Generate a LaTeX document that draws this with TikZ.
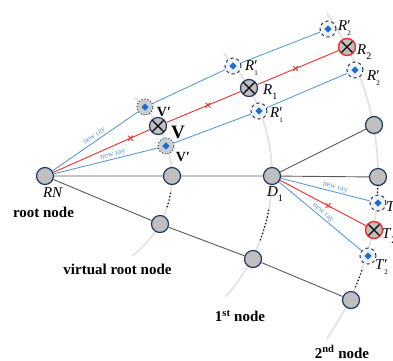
\documentclass[tikz,border=0pt]{standalone}
\usepackage{fontspec}
\setmainfont{Liberation Serif}
\usetikzlibrary{shapes.misc}

\definecolor{navy}{HTML}{1F3864}
\definecolor{nodegrey}{HTML}{BFBFBF}
\definecolor{ghostgrey}{HTML}{CDCDCD}
\definecolor{ghostwhite}{HTML}{F2F2F2}
\definecolor{arcgrey}{HTML}{E3E3E3}
\definecolor{edgegrey}{HTML}{595959}
\definecolor{raynew}{HTML}{5B9BD5}
\definecolor{rayred}{HTML}{EE3030}
\definecolor{diamondblue}{HTML}{1A6FD6}

% primed label with a stacked subscript, and a plain subscripted label
\newcommand\prlbl[2]{\textit{#1}\rlap{′}\raisebox{-0.3em}{\fontsize{7}{7}\selectfont #2}}
\newcommand\sblbl[2]{\textit{#1}\raisebox{-0.3em}{\fontsize{10}{10}\selectfont #2}}

\tikzset{
  tnode/.style={circle, draw=navy, fill=nodegrey, line width=1.2pt,
    minimum size=17pt, inner sep=0pt},
  crossed/.style={tnode, path picture={
    \draw[black, line width=1.1pt]
      (path picture bounding box.north west) -- (path picture bounding box.south east)
      (path picture bounding box.north east) -- (path picture bounding box.south west);}},
  hit/.style={crossed, draw=rayred, line width=1.4pt},
  ghost/.style={circle, draw=navy, line width=1pt, minimum size=16pt, inner sep=0pt,
    path picture={
      \fill[diamondblue] (path picture bounding box.center) ++(0,-3.6)
        -- ++(3.6,3.6) -- ++(-3.6,3.6) -- ++(-3.6,-3.6) -- cycle;}},
  ghostv/.style={ghost, dotted, fill=ghostgrey},
  ghostr/.style={ghost, dashed, fill=ghostwhite},
  edge/.style={draw=edgegrey, line width=0.9pt},
  blueray/.style={draw=raynew, line width=0.9pt},
  redray/.style={draw=rayred, line width=0.9pt},
  xmk/.style={cross out, draw=rayred, minimum size=4pt, inner sep=0pt, line width=0.9pt},
  raylbl/.style={sloped, above, inner sep=0.8pt, text=raynew,
    font=\fontsize{8}{8}\selectfont},
  arcline/.style={draw=arcgrey, line width=1.8pt},
  dots/.style={draw=black, line width=1.6pt, line cap=round, dash pattern=on 0pt off 3.4pt},
  lbl/.style={inner sep=0pt, font=\fontsize{15}{15}\selectfont},
  title/.style={inner sep=0pt, font=\fontsize{15}{15}\selectfont\bfseries}
}

\begin{document}
\begin{tikzpicture}[x=1pt, y=-1pt]
\useasboundingbox (0,0) rectangle (393,360);

% level arcs
\draw[arcline] plot[domain=-52:53, samples=60] ({72+100*cos(\x)}, {176+100*sin(\x)});
\draw[arcline] plot[domain=-43:42, samples=80] ({92+180*cos(\x)}, {176+180*sin(\x)});
\draw[arcline] plot[domain=-35:35, samples=90] ({94+284*cos(\x)}, {176+284*sin(\x)});

% tree nodes
\node[tnode] (RN)  at (45,176) {};
\node[tnode] (VR0) at (172,176) {};
\node[tnode] (VR1) at (160,224) {};
\node[tnode] (D1)  at (272,176) {};
\node[tnode] (N1b) at (253,259) {};
\node[tnode] (N2t) at (374,125) {};
\node[tnode] (N2m) at (378,177) {};
\node[tnode] (N2b) at (351,300) {};

% ray nodes
\node[ghostv]  (Vt)  at (145,107) {};
\node[crossed] (V)   at (158,126) {};
\node[ghostv]  (Vb)  at (166,146) {};
\node[ghostr]  (R1t) at (233,66) {};
\node[crossed] (R1)  at (249,88) {};
\node[ghostr]  (R1b) at (259,111) {};
\node[ghostr]  (R2t) at (328,29) {};
\node[hit]     (R2)  at (347,47) {};
\node[ghostr]  (R2b) at (355,70) {};
\node[ghostr]  (Tp)  at (378,203) {};
\node[hit]     (T2)  at (374,230) {};
\node[ghostr]  (T2p) at (368,256) {};

% tree edges
\draw[edge] (RN) -- (VR0) -- (D1) -- (N2m);
\draw[edge] (D1) -- (N2t);
\draw[edge] (RN) -- (VR1) -- (N1b) -- (N2b);

% rays
\draw[blueray] (RN) -- node[raylbl, pos=0.52] {new ray} (Vt);
\draw[blueray] (Vt) -- (R1t) -- (R2t);
\draw[redray] (RN) -- node[xmk, pos=0.8] {} (V);
\draw[redray] (V) -- node[xmk, pos=0.56] {} (R1);
\draw[redray] (R1) -- node[xmk, pos=0.47] {} (R2);
\draw[blueray] (RN) -- node[raylbl, pos=0.58] {new ray} (Vb);
\draw[blueray] (Vb) -- (R1b) -- (R2b);
\draw[blueray] (D1) -- node[raylbl, pos=0.6] {new ray} (Tp);
\draw[redray] (D1) -- node[xmk, pos=0.56] {} (T2);
\draw[blueray] (D1) -- node[raylbl, pos=0.5] {new ray} (T2p);

% elided nodes along the arcs
\draw[dots] plot[domain=10:19, samples=10] ({72+100*cos(\x)}, {176+100*sin(\x)});
\draw[dots] plot[domain=11:21, samples=10] ({92+180*cos(\x)}, {176+180*sin(\x)});
\draw[dots] plot[domain=19.5:23, samples=6] ({94+284*cos(\x)}, {176+284*sin(\x)});
\draw[dots] plot[domain=1.9:3.7, samples=4] ({94+284*cos(\x)}, {176+284*sin(\x)});

% labels
\node[lbl, font=\fontsize{14}{14}\selectfont\bfseries] (lVt) at (164,112) {V′};
\node[lbl, font=\fontsize{19}{19}\selectfont\bfseries] (lV) at (178,132) {V};
\node[lbl, font=\fontsize{14}{14}\selectfont\bfseries] (lVb) at (183,157) {V′};
\node[lbl, anchor=west] (lR1t) at (245,68) {\prlbl{R}{1}};
\node[lbl, anchor=west] (lR1)  at (263,92) {\sblbl{R}{1}};
\node[lbl, anchor=west] (lR1b) at (270,115) {\prlbl{R}{1}};
\node[lbl, anchor=west] (lR2t) at (338,28) {\prlbl{R}{2}};
\node[lbl, anchor=west] (lR2)  at (357,52) {\sblbl{R}{2}};
\node[lbl, anchor=west] (lR2b) at (367,78) {\prlbl{R}{2}};
\node[lbl, anchor=west] (lTp)  at (386,209) {\prlbl{T}{1}};
\node[lbl, anchor=west] (lT2)  at (382,236) {\sblbl{T}{2}};
\node[lbl, anchor=west] (lT2p) at (375,267) {\prlbl{T}{2}};
\node[lbl] (lRN) at (53,193) {\textit{RN}};
\node[lbl] (lD1) at (275,194) {\sblbl{D}{1}};
\node[title] (tRoot) at (43.5,212) {root node};
\node[title] (tVirt) at (117.5,269) {virtual root node};
\node[title] (tFirst) at (240,316) {1\textsuperscript{st} node};
\node[title] (tSecond) at (342,352) {2\textsuperscript{nd} node};
\end{tikzpicture}
\end{document}
